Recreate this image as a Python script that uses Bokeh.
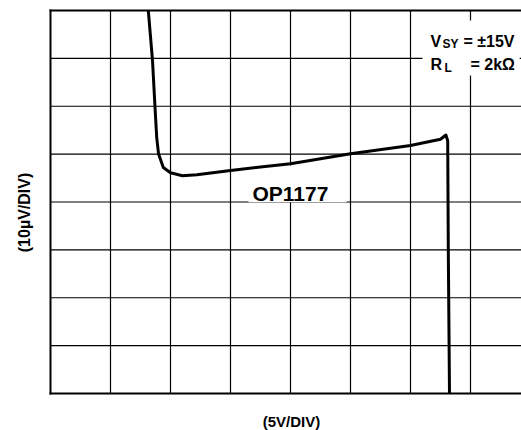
import math
from bokeh.plotting import figure
from bokeh.models import Range1d, Label
from bokeh.embed import file_html
from bokeh.resources import INLINE

# ---- data ----
# output voltage (V) vs input offset voltage change (uV)
vout_v = [-11.85, -11.5, -11.3, -11.15, -11.0, -10.6, -10.0, -9.0, -7.8, -5.0,
          -2.5, 0.0, 5.0, 10.0, 12.5, 12.95, 13.1, 13.15, 13.25]
vos_uv = [40.0, 29.6, 20.2, 13.5, 10.1, 7.2, 6.1, 5.5, 5.7, 6.6,
          7.3, 8.0, 10.1, 11.8, 13.1, 14.0, 12.8, -10.0, -40.0]
x_ticks = [-15, -10, -5, 0, 5, 10, 15]
y_ticks = [-30, -20, -10, 0, 10, 20, 30]
x_min, x_max = -20, 19.25
y_min, y_max = -40, 40
x_label = "(5V/DIV)"
y_label = "(10\u00b5V/DIV)"
series_name = "OP1177"

FONT = "Liberation Sans"

# the frame covers the whole canvas; the chart area is drawn from the limits above
p = figure(width=521, height=430,
           x_range=Range1d(x_min - 50 / 12, x_max),
           y_range=Range1d(y_min - 37 / 4.7875, y_max + 10 / 4.7875),
           x_axis_type=None, y_axis_type=None,
           output_backend="svg", toolbar_location=None,
           min_border=0)
p.outline_line_color = None
p.background_fill_color = "white"
p.border_fill_color = "white"

# grid lines
p.segment(x0=x_ticks, x1=x_ticks, y0=[y_min] * len(x_ticks), y1=[y_max] * len(x_ticks),
          line_color="black", line_width=1.2)
p.segment(x0=[x_min] * len(y_ticks), x1=[x_max] * len(y_ticks), y0=y_ticks, y1=y_ticks,
          line_color="black", line_width=1.2)
# frame edges: left, top, bottom
p.segment(x0=[x_min, x_min, x_min], x1=[x_min, x_max, x_max],
          y0=[y_min, y_max, y_min], y1=[y_max, y_max, y_min],
          line_color="black", line_width=2, line_cap="square")

# white boxes behind the texts
p.quad(left=[-3.5], right=[4.67], top=[7.6], bottom=[-0.05],
       fill_color="white", line_color=None)
p.quad(left=[11.0], right=[19.1], top=[37.9], bottom=[26.4],
       fill_color="white", line_color=None)

# curve
p.line(vout_v, vos_uv, line_color="black", line_width=3, line_join="round")

def lab(x, y, t, size, **kw):
    p.add_layout(Label(x=x, y=y, text=t, text_font=FONT, text_font_style="bold",
                       text_font_size=size, text_color="black", **kw))

lab(-3.17, 1.78, series_name, "21px", text_align="left", text_baseline="alphabetic")
lab(0.08, -45.85, x_label, "15px", text_align="center", text_baseline="middle")
lab(-22.17, -2.19, y_label, "16px", text_align="center", text_baseline="middle",
    angle=math.pi / 2)

# condition legend: V_SY = ±15V, R_L = 2kΩ
lab(11.667, 33.53, "V", "16px", text_align="left", text_baseline="alphabetic")
lab(12.667, 32.9, "SY", "12px", text_align="left", text_baseline="alphabetic")
lab(14.417, 33.53, "= \u00b115V", "16px", text_align="left", text_baseline="alphabetic")
lab(11.667, 28.72, "R", "16px", text_align="left", text_baseline="alphabetic")
lab(12.833, 27.89, "L", "12px", text_align="left", text_baseline="alphabetic")
lab(15.0, 28.72, "= 2k\u03a9", "16px", text_align="left", text_baseline="alphabetic")

open("out.html", "w").write(file_html(p, INLINE))
